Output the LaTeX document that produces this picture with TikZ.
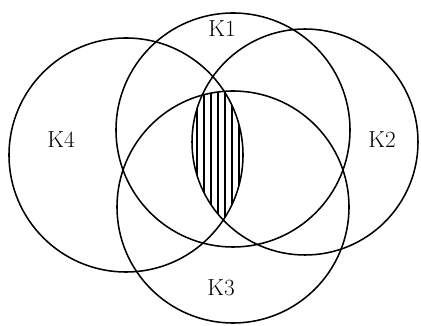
\documentclass[tikz,border=0pt]{standalone}
\usetikzlibrary{positioning}

\newcommand*{\rone}{117}
\newcommand*{\rtwo}{113}
\newcommand*{\rthree}{116}
\newcommand*{\rfour}{117}

\begin{document}
\begin{tikzpicture}
[
	x=0.025cm,y=-0.025cm,
	ring/.style={line width=1.1pt},
	lbl/.style={font=\fontsize{16.5}{18}\selectfont,inner sep=0pt},
	hatch/.style={line width=1.2pt}
]

	\useasboundingbox (0,0) rectangle (421,326);

	% centres
	\coordinate (c1) at (233,130);
	\coordinate (c2) at (305,142);
	\coordinate (c3) at (233,207);
	\coordinate (c4) at (126,155);

	% hatched part
	\begin{scope}
		\clip (c2) circle (\rtwo);
		\clip (c4) circle (\rfour);
		\clip (c3) circle (\rthree);
		\foreach \xx in {190,197,...,250}
			\draw[hatch] (\xx,80) -- (\xx,230);
	\end{scope}

	% circles
	\draw[ring] (c1) circle (\rone);
	\draw[ring] (c2) circle (\rtwo);
	\draw[ring] (c3) circle (\rthree);
	\draw[ring] (c4) circle (\rfour);

	\node[lbl] at (222,29) (k1) {K1};
	\node[lbl] at (382,140) (k2) {K2};
	\node[lbl] at (221,288) (k3) {K3};
	\node[lbl] at (61,140) (k4) {K4};

\end{tikzpicture}
\end{document}
